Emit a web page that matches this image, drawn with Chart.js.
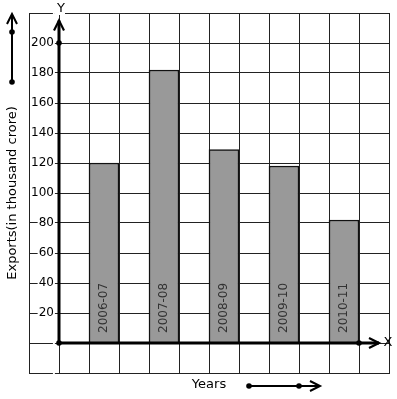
<!DOCTYPE html>
<html>
<head>
<meta charset="utf-8">
<script src="https://cdn.jsdelivr.net/npm/chart.js@4"></script>
<style>
  body { margin: 0; background: #fff; }
  canvas { display: block; }
</style>
</head>
<body>
<canvas id="chart" width="397" height="399"></canvas>
<script>
var years = ['2006-07', '2007-08', '2008-09', '2009-10', '2010-11'];
var exportsVal = [120, 182, 129, 118, 82];
var yTicks = [20, 40, 60, 80, 100, 120, 140, 160, 180, 200];

// 12 grid columns, bars sit in every second one starting at the third
var slots = [];
var slotData = [];
for (var i = 0; i < 12; i++) { slots.push(''); slotData.push(null); }
years.forEach(function (y, i) {
	slots[2 + 2 * i] = y;
	slotData[2 + 2 * i] = exportsVal[i];
});

function arrowHead(ctx, x, y, dir) {
	ctx.beginPath();
	if (dir === 'up') {
		ctx.moveTo(x - 5, y + 10); ctx.lineTo(x, y); ctx.lineTo(x + 5, y + 10);
	} else {
		ctx.moveTo(x - 10, y - 5); ctx.lineTo(x, y); ctx.lineTo(x - 10, y + 5);
	}
	ctx.stroke();
}
function dot(ctx, x, y) {
	ctx.beginPath();
	ctx.arc(x, y, 2.8, 0, Math.PI * 2);
	ctx.fill();
}

var decor = {
	id: 'decor',
	afterDatasetsDraw: function (chart) {
		var ctx = chart.ctx, xs = chart.scales.x, ys = chart.scales.y;
		var ox = xs.getPixelForValue(0.5), oy = ys.getPixelForValue(0);
		ctx.save();
		// labels inside bars
		var meta = chart.getDatasetMeta(0);
		ctx.fillStyle = '#333';
		ctx.font = '12px "DejaVu Sans"';
		ctx.textAlign = 'left';
		ctx.textBaseline = 'middle';
		meta.data.forEach(function (bar, i) {
			if (slotData[i] === null) return;
			ctx.save();
			ctx.translate(bar.x, oy - 10);
			ctx.rotate(-Math.PI / 2);
			ctx.fillText(slots[i], 0, 0);
			ctx.restore();
		});
		// axes
		ctx.strokeStyle = '#000';
		ctx.fillStyle = '#000';
		ctx.lineWidth = 3;
		var yTop = ys.getPixelForValue(215);
		var xEnd = xs.right - 10;
		ctx.beginPath();
		ctx.moveTo(ox, oy); ctx.lineTo(ox, yTop);
		ctx.moveTo(ox, oy); ctx.lineTo(xEnd, oy);
		ctx.stroke();
		ctx.lineWidth = 2.2;
		arrowHead(ctx, ox, yTop, 'up');
		arrowHead(ctx, xEnd, oy, 'right');
		dot(ctx, ox, oy);
		dot(ctx, ox, ys.getPixelForValue(200));
		dot(ctx, xs.getPixelForValue(10.5), oy);
		// Y and X letters
		ctx.font = '13px "DejaVu Sans"';
		ctx.textAlign = 'center';
		ctx.textBaseline = 'middle';
		ctx.fillStyle = '#fff';
		ctx.fillRect(ox - 4, chart.chartArea.top - 2, 10, 4);
		ctx.fillStyle = '#000';
		ctx.fillText('Y', ox + 2, 9);
		ctx.fillText('X', xs.right - 1, oy);
		// side arrows
		ctx.lineWidth = 2;
		ctx.beginPath(); ctx.moveTo(12, 82); ctx.lineTo(12, 14); ctx.stroke();
		arrowHead(ctx, 12, 14, 'up');
		dot(ctx, 12, 32); dot(ctx, 12, 82);
		ctx.beginPath(); ctx.moveTo(249, 386); ctx.lineTo(320, 386); ctx.stroke();
		arrowHead(ctx, 320, 386, 'right');
		dot(ctx, 249, 386); dot(ctx, 299, 386);
		ctx.restore();
	}
};

var ctx = document.getElementById('chart').getContext('2d');
var chart = new Chart(ctx, {
	type: 'bar',
	data: {
		labels: slots,
		datasets: [{
			label: 'Exports',
			data: slotData,
			backgroundColor: '#999999',
			borderColor: '#111',
			borderWidth: 1.5,
			barPercentage: 1,
			categoryPercentage: 1
		}]
	},
	options: {
		responsive: false,
		animation: false,
		layout: { padding: { left: 0, right: 8, top: 13, bottom: 0 } },
		plugins: { legend: { display: false }, tooltip: { enabled: false } },
		scales: {
			x: {
				offset: true,
				grid: { offset: true, color: '#222', lineWidth: 1, drawTicks: false },
				border: { color: '#222', width: 1 },
				ticks: { display: false },
				title: {
					display: true, text: 'Years', color: '#000',
					font: { family: 'DejaVu Sans', size: 13, lineHeight: 1.2 },
					padding: { top: 4.2, bottom: 6.2 }
				}
			},
			y: {
				min: -20, max: 220,
				grid: { color: '#222', lineWidth: 1, drawTicks: false },
				border: { color: '#222', width: 1 },
				ticks: {
					stepSize: 20,
					mirror: true,
					crossAlign: 'far',
					padding: 2,
					color: '#000',
					font: { family: 'DejaVu Sans', size: 12 },
					showLabelBackdrop: true,
					backdropColor: '#fff',
					backdropPadding: { left: 1, right: 1, top: 0, bottom: 0 },
					callback: function (v) { return yTicks.indexOf(v) >= 0 ? String(v) : ''; }
				},
				title: {
					display: true, text: 'Exports(in thousand crore)', color: '#000',
					font: { family: 'DejaVu Sans', size: 13, lineHeight: 1.2 },
					padding: { top: 5.2, bottom: 4.2 }
				}
			}
		}
	},
	plugins: [decor]
});
</script>
</body>
</html>
